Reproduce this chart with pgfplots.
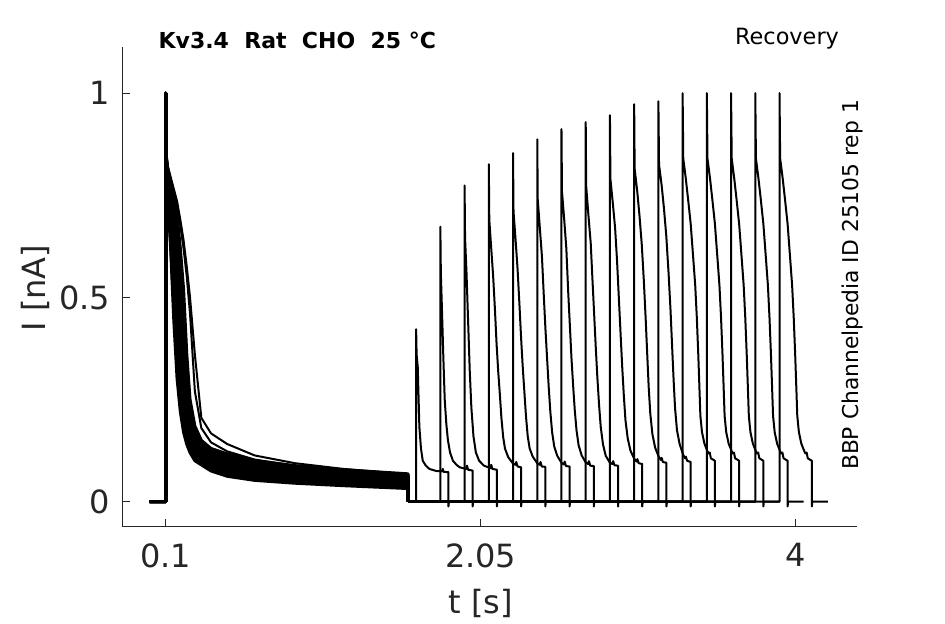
\documentclass[border=0pt]{standalone}
\usepackage{fontspec}
\setmainfont{DejaVu Sans}
\usepackage{pgfplots}
\usepackage{pgfplotstable}
\pgfplotsset{compat=1.18}
\definecolor{axgray}{RGB}{38,38,38}

% prepulse part of the traces (0 .. 1.6 s)
\pgfplotstableread{
t     a0     a1     a2     a3     a4     a5     a6     a7     a8     a9     a10   b1    b2
0     0      0      0      0      0      0      0      0      0      0      0     0     0
0.1   0      0      0      0      0      0      0      0      0      0      0     0     0
0.1   1.0    1.0    1.0    1.0    1.0    1.0    1.0    1.0    1.0    1.0    1.0   1.0   1.0
0.102 0.85   0.85   0.85   0.85   0.85   0.85   0.85   0.85   0.85   0.85   0.85  0.85  0.85
0.11  0.76   0.766  0.772  0.778  0.784  0.79   0.796  0.802  0.808  0.814  0.82  0.82  0.825
0.13  0.62   0.636  0.652  0.668  0.684  0.70   0.716  0.732  0.748  0.764  0.78  0.785 0.795
0.15  0.44   0.471  0.502  0.533  0.564  0.595  0.626  0.657  0.688  0.719  0.75  0.755 0.765
0.17  0.30   0.34   0.38   0.42   0.46   0.50   0.54   0.58   0.62   0.66   0.70  0.72  0.735
0.19  0.22   0.26   0.30   0.34   0.38   0.42   0.46   0.50   0.54   0.58   0.62  0.675 0.69
0.21  0.17   0.205  0.24   0.275  0.31   0.345  0.38   0.415  0.45   0.485  0.52  0.62  0.64
0.23  0.14   0.162  0.184  0.206  0.228  0.25   0.272  0.294  0.316  0.338  0.36  0.55  0.575
0.25  0.12   0.133  0.146  0.159  0.172  0.185  0.198  0.211  0.224  0.237  0.25  0.46  0.50
0.28  0.10   0.1085 0.117  0.1255 0.134  0.1425 0.151  0.1595 0.168  0.1765 0.185 0.27  0.36
0.32  0.09   0.096  0.102  0.108  0.114  0.12   0.126  0.132  0.138  0.144  0.15  0.18  0.205
0.38  0.075  0.0805 0.086  0.0915 0.097  0.1025 0.108  0.1135 0.119  0.1245 0.13  0.145 0.167
0.48  0.062  0.0675 0.073  0.0785 0.084  0.0895 0.095  0.1005 0.106  0.1115 0.117 0.123 0.141
0.65  0.052  0.0568 0.0616 0.0664 0.0712 0.076  0.0808 0.0856 0.0904 0.0952 0.10  0.103 0.113
0.9   0.045  0.0493 0.0536 0.0579 0.0622 0.0665 0.0708 0.0751 0.0794 0.0837 0.088 0.088 0.094
1.2   0.039  0.0429 0.0468 0.0507 0.0546 0.0585 0.0624 0.0663 0.0702 0.0741 0.078 0.077 0.08
1.6   0.032  0.0356 0.0392 0.0428 0.0464 0.05   0.0536 0.0572 0.0608 0.0644 0.068 0.066 0.067
1.6   0      0      0      0      0      0      0      0      0      0      0     0     0
}\pre

\begin{document}
\begin{tikzpicture}
\useasboundingbox (0,0) rectangle (472.5pt,312pt);
\begin{axis}[
  at={(61.2pt,48.7pt)}, anchor=south west,
  scale only axis, width=367.2pt, height=240pt,
  xmin=-0.1687, xmax=4.3786, ymin=-0.0612, ymax=1.114,
  axis x line*=bottom, axis y line*=left,
  axis line style={axgray, line width=0.5pt},
  tick align=inside, major tick length=4pt,
  tick style={axgray, line width=0.5pt},
  xtick={0.1,2.05,4}, xticklabels={0.1,2.05,4},
  ytick={0,0.5,1}, yticklabels={0,0.5,1},
  ticklabel style={font=\fontsize{16}{16}\selectfont, text=axgray},
  xticklabel style={yshift=-5pt},
  yticklabel style={xshift=-2.7pt},
  tr/.style={black, solid, line width=1pt, mark=none, line join=round},
  trb/.style={black, solid, line width=1.5pt, mark=none, line join=round},
]
\addplot[trb] table[x=t,y=a0]{\pre};
\addplot[trb] table[x=t,y=a1]{\pre};
\addplot[trb] table[x=t,y=a2]{\pre};
\addplot[trb] table[x=t,y=a3]{\pre};
\addplot[trb] table[x=t,y=a4]{\pre};
\addplot[trb] table[x=t,y=a5]{\pre};
\addplot[trb] table[x=t,y=a6]{\pre};
\addplot[trb] table[x=t,y=a7]{\pre};
\addplot[trb] table[x=t,y=a8]{\pre};
\addplot[trb] table[x=t,y=a9]{\pre};
\addplot[trb] table[x=t,y=a10]{\pre};
\addplot[tr] table[x=t,y=b1]{\pre};
\addplot[tr] table[x=t,y=b2]{\pre};
% test pulses
\addplot[tr] coordinates {(1.6,0)(1.65,0)(1.65,0.422)(1.653,0.36)(1.66,0.33)(1.67,0.183)(1.68,0.13)(1.691,0.1)(1.71,0.088)(1.732,0.08)(1.774,0.075)(1.81,0.074)(1.815,0.08)(1.82,0.073)(1.85,0.072)(1.85,-0.012)(1.853,0)(1.95,0)};
\addplot[tr] coordinates {(1.6,0)(1.8,0)(1.8,0.673)(1.803,0.56)(1.81,0.47)(1.818,0.36)(1.827,0.25)(1.837,0.19)(1.847,0.15)(1.86,0.12)(1.878,0.1)(1.9,0.09)(1.92,0.084)(1.96,0.08)(1.965,0.088)(1.972,0.078)(2.0,0.076)(2.0,-0.012)(2.003,0)(2.1,0)};
\addplot[tr] coordinates {(1.6,0)(1.95,0)(1.95,0.774)(1.953,0.645)(1.962,0.56)(1.972,0.44)(1.982,0.32)(1.992,0.23)(2.005,0.16)(2.02,0.12)(2.04,0.1)(2.07,0.088)(2.11,0.082)(2.115,0.09)(2.122,0.08)(2.15,0.078)(2.15,-0.012)(2.153,0)(2.25,0)};
\addplot[tr] coordinates {(1.6,0)(2.1,0)(2.1,0.826)(2.103,0.69)(2.115,0.62)(2.127,0.551)(2.138,0.47)(2.148,0.387)(2.158,0.32)(2.168,0.265)(2.178,0.205)(2.189,0.158)(2.2,0.13)(2.22,0.109)(2.25,0.093)(2.265,0.09)(2.27,0.097)(2.278,0.086)(2.3,0.084)(2.3,-0.012)(2.303,0)(2.4,0)};
\addplot[tr] coordinates {(1.6,0)(2.25,0)(2.25,0.853)(2.253,0.71)(2.266,0.64)(2.278,0.57)(2.29,0.48)(2.3,0.4)(2.31,0.33)(2.32,0.27)(2.33,0.21)(2.341,0.16)(2.353,0.13)(2.372,0.11)(2.4,0.094)(2.415,0.09)(2.42,0.097)(2.428,0.086)(2.45,0.085)(2.45,-0.012)(2.453,0)(2.55,0)};
\addplot[tr] coordinates {(1.6,0)(2.4,0)(2.4,0.887)(2.403,0.74)(2.416,0.67)(2.429,0.6)(2.441,0.5)(2.451,0.42)(2.461,0.35)(2.471,0.28)(2.481,0.22)(2.492,0.17)(2.505,0.135)(2.524,0.112)(2.55,0.095)(2.565,0.091)(2.57,0.098)(2.578,0.087)(2.6,0.086)(2.6,-0.012)(2.603,0)(2.7,0)};
\addplot[tr] coordinates {(1.6,0)(2.55,0)(2.55,0.912)(2.553,0.76)(2.567,0.69)(2.58,0.62)(2.592,0.51)(2.602,0.43)(2.612,0.35)(2.622,0.285)(2.632,0.225)(2.643,0.175)(2.656,0.138)(2.675,0.113)(2.7,0.096)(2.715,0.092)(2.72,0.099)(2.728,0.088)(2.75,0.087)(2.75,-0.012)(2.753,0)(2.85,0)};
\addplot[tr] coordinates {(1.6,0)(2.7,0)(2.7,0.929)(2.703,0.772)(2.717,0.70)(2.731,0.633)(2.741,0.55)(2.751,0.469)(2.762,0.38)(2.772,0.305)(2.783,0.235)(2.793,0.183)(2.807,0.14)(2.824,0.112)(2.85,0.095)(2.865,0.092)(2.87,0.099)(2.878,0.089)(2.9,0.088)(2.9,-0.012)(2.903,0)(3.0,0)};
\addplot[tr] coordinates {(1.6,0)(2.85,0)(2.85,0.946)(2.853,0.79)(2.868,0.73)(2.882,0.67)(2.894,0.59)(2.905,0.5)(2.916,0.41)(2.926,0.33)(2.936,0.26)(2.946,0.2)(2.96,0.155)(2.977,0.125)(3.0,0.105)(3.015,0.098)(3.02,0.104)(3.028,0.094)(3.05,0.092)(3.05,-0.012)(3.053,0)(3.15,0)};
\addplot[tr] coordinates {(1.6,0)(3.0,0)(3.0,0.973)(3.003,0.815)(3.019,0.76)(3.033,0.7)(3.047,0.63)(3.06,0.54)(3.071,0.45)(3.081,0.36)(3.09,0.28)(3.1,0.215)(3.113,0.165)(3.13,0.132)(3.152,0.11)(3.165,0.102)(3.17,0.107)(3.178,0.097)(3.2,0.095)(3.2,-0.012)(3.203,0)(3.3,0)};
\addplot[tr] coordinates {(1.6,0)(3.15,0)(3.15,0.98)(3.154,0.825)(3.17,0.775)(3.184,0.72)(3.199,0.65)(3.213,0.56)(3.225,0.47)(3.235,0.38)(3.244,0.3)(3.253,0.23)(3.265,0.175)(3.282,0.14)(3.303,0.115)(3.315,0.106)(3.32,0.11)(3.328,0.1)(3.35,0.097)(3.35,-0.012)(3.353,0)(3.45,0)};
\addplot[tr] coordinates {(1.6,0)(3.3,0)(3.3,1.0)(3.304,0.84)(3.32,0.79)(3.334,0.74)(3.35,0.68)(3.365,0.6)(3.378,0.53)(3.388,0.45)(3.397,0.36)(3.404,0.28)(3.41,0.21)(3.42,0.17)(3.435,0.142)(3.455,0.122)(3.46,0.118)(3.468,0.12)(3.475,0.106)(3.5,0.1)(3.5,-0.012)(3.503,0)(3.6,0)};
\addplot[tr] coordinates {(1.6,0)(3.45,0)(3.45,1.0)(3.454,0.84)(3.47,0.79)(3.484,0.74)(3.5,0.68)(3.515,0.6)(3.528,0.53)(3.538,0.45)(3.547,0.36)(3.554,0.28)(3.56,0.21)(3.57,0.17)(3.585,0.142)(3.605,0.122)(3.61,0.118)(3.618,0.12)(3.625,0.106)(3.65,0.1)(3.65,-0.012)(3.653,0)(3.75,0)};
\addplot[tr] coordinates {(1.6,0)(3.6,0)(3.6,1.0)(3.604,0.84)(3.62,0.79)(3.634,0.74)(3.65,0.68)(3.665,0.6)(3.678,0.53)(3.688,0.45)(3.697,0.36)(3.704,0.28)(3.71,0.21)(3.72,0.17)(3.735,0.142)(3.755,0.122)(3.76,0.118)(3.768,0.12)(3.775,0.106)(3.8,0.1)(3.8,-0.012)(3.803,0)(3.9,0)};
\addplot[tr] coordinates {(1.6,0)(3.75,0)(3.75,1.0)(3.754,0.84)(3.77,0.79)(3.784,0.74)(3.8,0.68)(3.815,0.6)(3.828,0.53)(3.838,0.45)(3.847,0.36)(3.854,0.28)(3.86,0.21)(3.87,0.17)(3.885,0.142)(3.905,0.122)(3.91,0.118)(3.918,0.12)(3.925,0.106)(3.95,0.1)(3.95,-0.012)(3.953,0)(4.05,0)};
\addplot[tr] coordinates {(1.6,0)(3.9,0)(3.9,1.0)(3.904,0.84)(3.92,0.79)(3.934,0.74)(3.95,0.68)(3.965,0.6)(3.978,0.53)(3.988,0.45)(3.997,0.36)(4.004,0.28)(4.01,0.21)(4.02,0.17)(4.035,0.142)(4.055,0.122)(4.06,0.118)(4.068,0.12)(4.075,0.106)(4.1,0.1)(4.1,-0.012)(4.103,0)(4.2,0)};
\end{axis}
\node[font=\fontsize{16}{16}\selectfont, text=axgray] at (240.5pt,10.5pt) {t [s]};
\node[font=\fontsize{16}{16}\selectfont, text=axgray, rotate=90] at (17.5pt,168pt) {I [nA]};
\node[anchor=west, font=\bfseries\fontsize{11}{13}\selectfont] at (75.8pt,292pt) {Kv3.4\ \ Rat\ \ CHO\ \ 25 °C};
\node[anchor=east, font=\fontsize{11.2}{13}\selectfont] at (423pt,292.5pt) {Recovery};
\node[rotate=90, font=\fontsize{10.9}{13}\selectfont] at (426pt,169.5pt) {BBP Channelpedia ID 25105 rep 1};
\end{tikzpicture}
\end{document}
